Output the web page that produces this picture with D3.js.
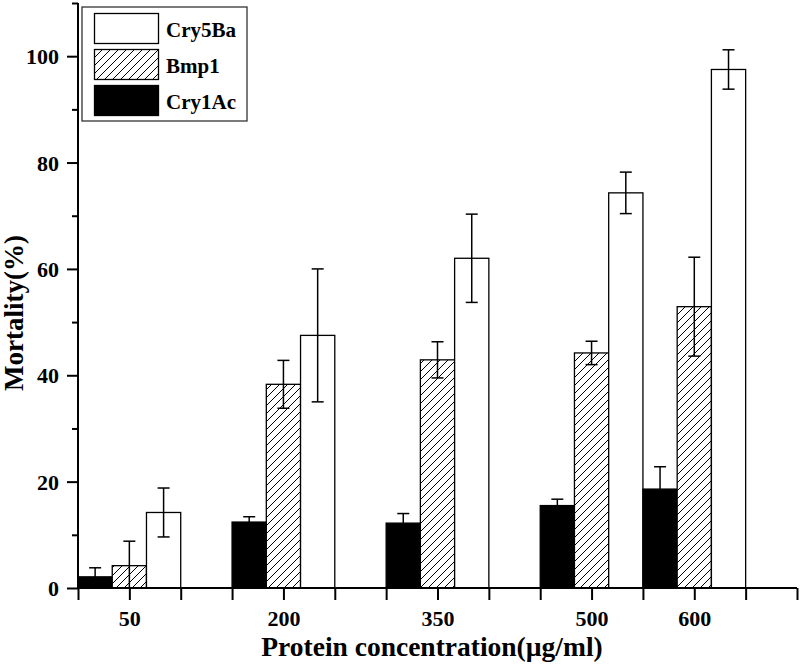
<!DOCTYPE html>
<html>
<head>
<meta charset="utf-8">
<script src="https://d3js.org/d3.v7.min.js"></script>
<style type="text/css">
body {margin:0;background:#fff;}
svg {display:block;font-family:"Liberation Serif","Times New Roman",serif;font-weight:bold;}
</style>
</head>
<body>
<svg id="chart" width="800" height="669"></svg>
<script type="text/javascript">
// concentrations (ug/ml) and mortality (%)
var concentrations = [50, 200, 350, 500, 600];
var seriesNames = ["Cry1Ac", "Bmp1", "Cry5Ba"];
var cry1Ac = [2.1, 12.4, 12.2, 15.5, 18.6];
var cry1AcErr = [1.7, 1.0, 1.8, 1.2, 4.2];
var bmp1 = [4.2, 38.3, 42.9, 44.2, 52.9];
var bmp1Err = [4.6, 4.5, 3.4, 2.2, 9.3];
var cry5Ba = [14.2, 47.5, 62.0, 74.3, 97.5];
var cry5BaErr = [4.6, 12.5, 8.3, 3.9, 3.7];
var yTicks = [0, 20, 40, 60, 80, 100];

var svg = d3.select("#chart");

var defs = svg.append("defs");
var pat = defs.append("pattern")
	.attr("id", "hatch")
	.attr("patternUnits", "userSpaceOnUse")
	.attr("width", 8).attr("height", 8);
pat.append("rect").attr("width", 8).attr("height", 8).attr("fill", "white");
pat.append("path")
	.attr("d", "M0,8 L8,0 M-2,2 L2,-2 M6,10 L10,6")
	.attr("stroke", "black").attr("stroke-width", 1);

var fills = {"Cry1Ac": "black", "Bmp1": "url(#hatch)", "Cry5Ba": "white"};

var x = d3.scaleLinear().domain([0, 700]).range([78, 797]);
var y = d3.scaleLinear().domain([0, 110]).range([588, 3]);
var bw = x(100 / 3) - x(0);

var rows = [];
var vals = [cry1Ac, bmp1, cry5Ba];
var errs = [cry1AcErr, bmp1Err, cry5BaErr];
concentrations.forEach(function(c, i) {
	seriesNames.forEach(function(s, j) {
		rows.push({c: c, s: s, off: (j - 1) * 100 / 3, v: vals[j][i], e: errs[j][i]});
	});
});

// bars
svg.append("g").selectAll("rect").data(rows).enter().append("rect")
	.attr("x", function(d) { return x(d.c + d.off) - bw / 2; })
	.attr("y", function(d) { return y(d.v); })
	.attr("width", bw)
	.attr("height", function(d) { return y(0) - y(d.v); })
	.attr("fill", function(d) { return fills[d.s]; })
	.attr("stroke", "black")
	.attr("stroke-width", 1.3);

// error bars
var eb = svg.append("g").attr("stroke", "black").attr("stroke-width", 1.5);
rows.forEach(function(d) {
	var cx = x(d.c + d.off);
	var lo = Math.max(0, d.v - d.e), hi = d.v + d.e;
	eb.append("line").attr("x1", cx).attr("x2", cx).attr("y1", y(lo)).attr("y2", y(hi));
	eb.append("line").attr("x1", cx - 6).attr("x2", cx + 6).attr("y1", y(hi)).attr("y2", y(hi));
	if (d.v - d.e > 0)
		eb.append("line").attr("x1", cx - 6).attr("x2", cx + 6).attr("y1", y(lo)).attr("y2", y(lo));
});

// y axis
var yAxis = svg.append("g").attr("transform", "translate(78,0)")
	.call(d3.axisLeft(y).tickValues(d3.range(0, 111, 10)).tickSize(11)
		.tickFormat(function(d) { return yTicks.indexOf(d) >= 0 ? d : ""; }));
yAxis.attr("font-family", null).attr("font-size", 22);
yAxis.selectAll(".tick line").attr("stroke-width", 2)
	.attr("x2", function(d) { return yTicks.indexOf(d) >= 0 ? -11 : -6; });
yAxis.select(".domain").attr("stroke-width", 2).attr("d", "M0," + y(110) + "V" + y(0));
yAxis.selectAll("text").attr("x", -19).attr("dy", "0.34em");

// x axis
var xAxis = svg.append("g").attr("transform", "translate(0,588)")
	.call(d3.axisBottom(x).tickValues(d3.range(0, 701, 50)).tickSize(12)
		.tickFormat(function(d) { return concentrations.indexOf(d) >= 0 ? d : ""; }));
xAxis.attr("font-family", null).attr("font-size", 22);
xAxis.selectAll(".tick line").attr("stroke-width", 2);
xAxis.select(".domain").attr("stroke-width", 2).attr("d", "M" + x(0) + ",0H" + x(700));
xAxis.selectAll("text").attr("y", 22).attr("dy", "0.71em");

svg.append("text").attr("x", 432).attr("y", 656).attr("text-anchor", "middle")
	.attr("font-size", 27.5).text("Protein concentration(\u00b5g/ml)");
svg.append("text").attr("transform", "translate(23,313) rotate(-90)").attr("text-anchor", "middle")
	.attr("font-size", 27).text("Mortality(%)");

// legend
var leg = svg.append("g");
leg.append("rect").attr("x", 82).attr("y", 7).attr("width", 165).attr("height", 114)
	.attr("fill", "white").attr("stroke", "#333").attr("stroke-width", 1.3);
var legOrder = ["Cry5Ba", "Bmp1", "Cry1Ac"];
legOrder.forEach(function(s, i) {
	leg.append("rect").attr("x", 94.5).attr("y", 13.5 + i * 36).attr("width", 64).attr("height", 30)
		.attr("fill", fills[s]).attr("stroke", "black").attr("stroke-width", 1.3);
	leg.append("text").attr("x", 166).attr("y", 37 + i * 36).attr("font-size", 21).text(s);
});
</script>
</body>
</html>
